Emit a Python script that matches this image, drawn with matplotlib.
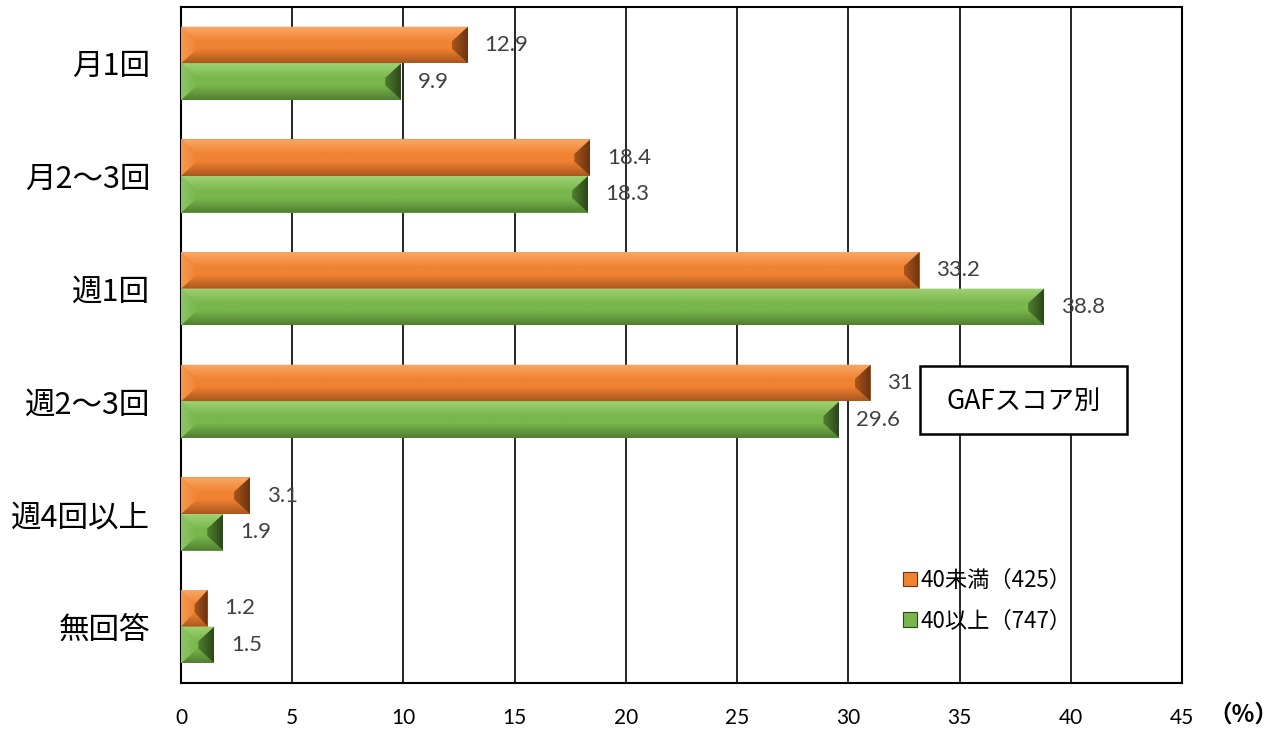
import numpy as np
import matplotlib
matplotlib.use("Agg")
import matplotlib.pyplot as plt
from matplotlib.patches import Polygon, Rectangle, Patch
from matplotlib.colors import LinearSegmentedColormap

# Datos
categorias = ["月1回", "月2〜3回", "週1回", "週2〜3回", "週4回以上", "無回答"]
menos_40 = [12.9, 18.4, 33.2, 31, 3.1, 1.2]
mas_40 = [9.9, 18.3, 38.8, 29.6, 1.9, 1.5]
etiquetas_valor_menos = ["12.9", "18.4", "33.2", "31", "3.1", "1.2"]
etiquetas_valor_mas = ["9.9", "18.3", "38.8", "29.6", "1.9", "1.5"]
series = ["40未満（425）", "40以上（747）"]
titulo_caja = "GAFスコア別"
x_ticks = list(range(0, 50, 5))

JP = ["Noto Sans CJK JP", "DejaVu Sans"]
NUM = ["Lato", "DejaVu Sans"]

# Colores (cara, claro, oscuro, muy oscuro)
col_naranja = dict(face="#F08332", light="#F9A866", dark="#A9561C", edge="#6A3310", left="#F5994F")
col_verde = dict(face="#79B74C", light="#9FD275", dark="#4F7F30", edge="#2C4719", left="#8CC563")

W, H = 1285, 730
fig = plt.figure(figsize=(W / 100, H / 100), dpi=100)
ax = fig.add_axes([181 / W, 1 - 683 / H, 1001 / W, 676 / H])

n = len(categorias)
ypos = np.arange(n)[::-1].astype(float)
alto = 0.325
xmax = 45
ax.set_xlim(0, xmax)
ax.set_ylim(-0.5, n - 0.5)

# píxeles por unidad, para el bisel
px_x = 1001 / xmax
px_y = 676 / n
bisel_px = 16


def faceta(pts, c0, c1, vertical, ext):
    """Polígono relleno con gradiente (recortado)."""
    cmap = LinearSegmentedColormap.from_list("g", [c0, c1])
    if vertical:
        grad = np.linspace(0, 1, 64).reshape(-1, 1)
    else:
        grad = np.linspace(0, 1, 64).reshape(1, -1)
    im = ax.imshow(grad, extent=ext, cmap=cmap, aspect="auto",
                   origin="lower", zorder=3, interpolation="bilinear")
    p = Polygon(pts, closed=True, facecolor="none", edgecolor="none",
                transform=ax.transData)
    ax.add_patch(p)
    im.set_clip_path(p)


def barra_bisel(yc, v, col):
    x0, x1 = 0.0, v
    yb, yt = yc - alto / 2, yc + alto / 2
    dx = min(bisel_px / px_x, v / 2)
    dy = min(bisel_px / px_y, alto * 0.4)
    # cara central
    faceta([(x0, yb), (x1, yb), (x1, yt), (x0, yt)],
           col["face"], col["face"], True, (x0, x1, yb, yt))
    # arriba (claro)
    faceta([(x0, yt), (x1, yt), (x1 - dx, yt - dy), (x0 + dx, yt - dy)],
           col["face"], col["light"], True, (x0, x1, yt - dy, yt))
    # abajo (oscuro)
    faceta([(x0, yb), (x1, yb), (x1 - dx, yb + dy), (x0 + dx, yb + dy)],
           col["dark"], col["face"], True, (x0, x1, yb, yb + dy))
    # derecha (muy oscuro)
    faceta([(x1, yt), (x1, yb), (x1 - dx, yb + dy), (x1 - dx, yt - dy)],
           col["dark"], col["edge"], False, (x1 - dx, x1, yb, yt))
    # izquierda
    faceta([(x0, yt), (x0, yb), (x0 + dx, yb + dy), (x0 + dx, yt - dy)],
           col["left"], col["face"], False, (x0, x0 + dx, yb, yt))


for y, a, b, la, lb in zip(ypos, menos_40, mas_40, etiquetas_valor_menos, etiquetas_valor_mas):
    barra_bisel(y + alto / 2, a, col_naranja)
    barra_bisel(y - alto / 2, b, col_verde)
    ax.text(a + 0.75, y + alto / 2, la, va="center", ha="left",
            fontsize=16, color="#404040", family=NUM, zorder=5)
    ax.text(b + 0.75, y - alto / 2, lb, va="center", ha="left",
            fontsize=16, color="#404040", family=NUM, zorder=5)

ax.set_xlim(0, xmax)
ax.set_ylim(-0.5, n - 0.5)

# Ejes y rejilla
ax.set_xticks(x_ticks)
ax.set_xticklabels([str(t) for t in x_ticks], fontsize=15, family=NUM)
ax.set_yticks(ypos)
ax.set_yticklabels(categorias, fontsize=22, family=JP)
ax.tick_params(axis="both", length=0)
ax.tick_params(axis="x", pad=18)
ax.tick_params(axis="y", pad=22)
ax.xaxis.grid(True, color="black", linewidth=1.2)
ax.set_axisbelow(True)
for s in ax.spines.values():
    s.set_linewidth(1.5)
    s.set_color("black")

fig.text(1243 / W, 1 - 715 / H, "（%）", ha="center", va="center",
         fontsize=17, family=JP, weight="bold")

# Caja de título
fig.add_artist(Rectangle((920 / W, 1 - 434 / H), 207 / W, 68 / H,
                         transform=fig.transFigure, facecolor="white",
                         edgecolor="black", linewidth=1.8, zorder=6))
fig.text(1023.5 / W, 1 - 401 / H, titulo_caja, ha="center", va="center",
         fontsize=19, family=JP, zorder=7)

# Leyenda
handles = [Patch(facecolor=col_naranja["face"], edgecolor=col_naranja["edge"], linewidth=0.8),
           Patch(facecolor=col_verde["face"], edgecolor=col_verde["edge"], linewidth=0.8)]
ax.legend(handles, series, loc="upper left", bbox_to_anchor=(885 / W, 1 - 551 / H),
          bbox_transform=fig.transFigure, frameon=False, handlelength=0.65,
          handleheight=0.65, handletextpad=0.15, labelspacing=0.8,
          borderpad=0.3, prop={"family": JP, "size": 16})

fig.savefig("out.png", dpi=100)
